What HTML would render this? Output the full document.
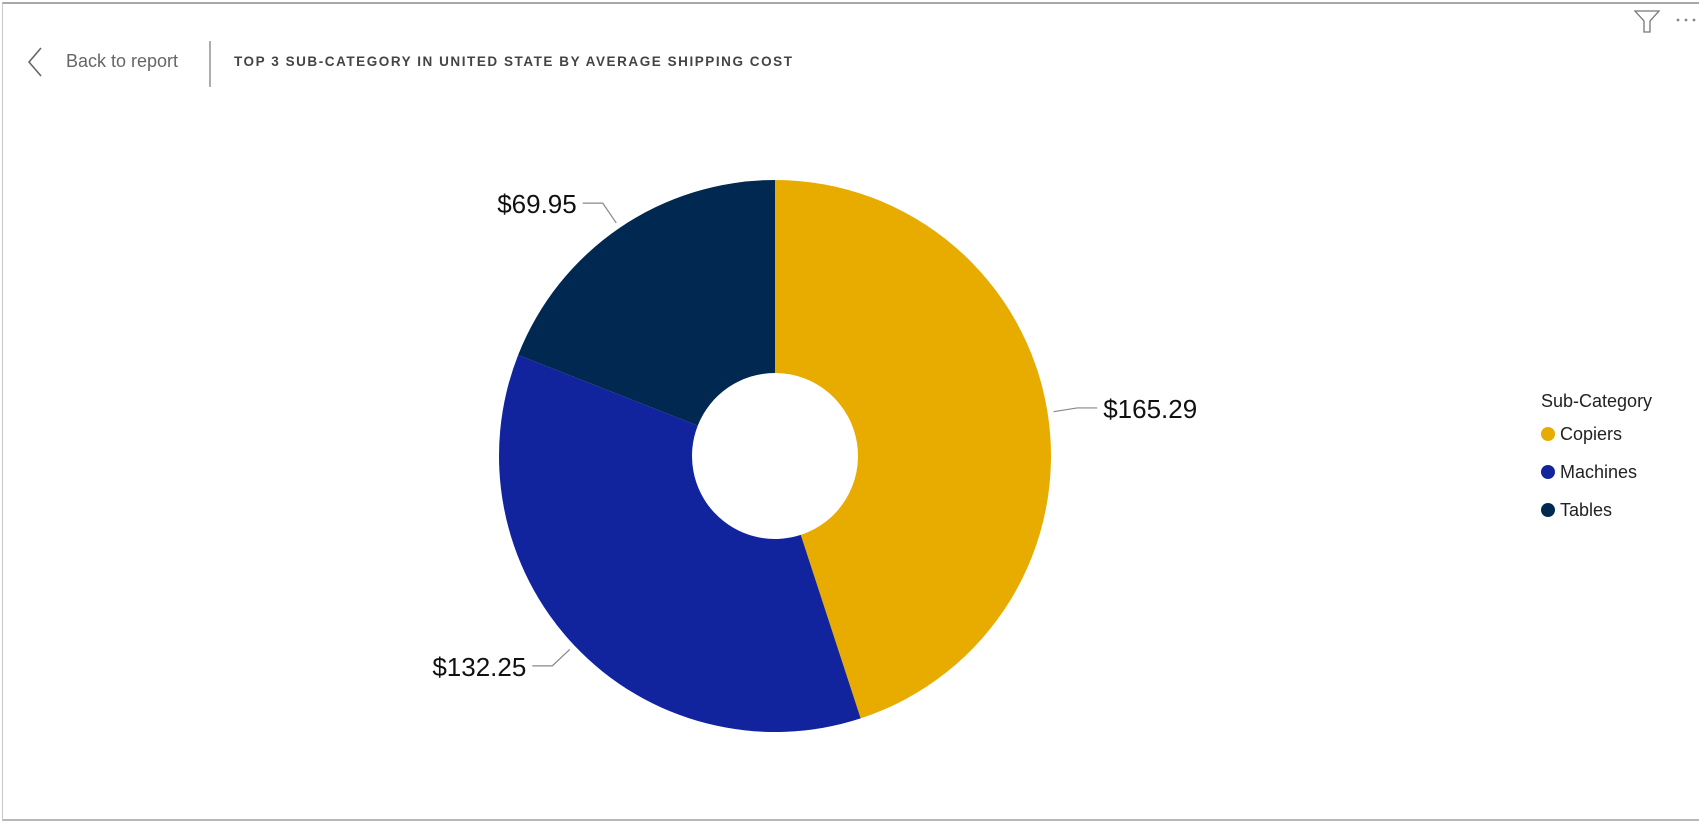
<!DOCTYPE html>
<html><head><meta charset="utf-8"><style>
html,body{margin:0;padding:0;background:#fff;width:1699px;height:826px;overflow:hidden;font-family:"Liberation Sans",sans-serif}
#frame{position:absolute;left:2px;top:2px;width:1700px;height:819px;border-top:2px solid #a8a8a8;border-left:1px solid #c8c8c8;border-bottom:2px solid #b8b8b8;box-sizing:border-box}
.abs{position:absolute;white-space:nowrap}
</style></head><body>
<div id="frame"></div>
<svg class="abs" style="left:0;top:0" width="1699" height="826">
  <polyline points="41,48 29,62 41,76" fill="none" stroke="#666" stroke-width="1.6"/>
  <line x1="210" y1="41" x2="210" y2="87" stroke="#777" stroke-width="1.2"/>
  <path d="M1635,11 L1659,11 L1650,21 L1650,32 L1644,32 L1644,21 Z" fill="none" stroke="#777" stroke-width="1.3"/>
  <g fill="#888"><circle cx="1678" cy="20" r="1.4"/><circle cx="1686" cy="20" r="1.4"/><circle cx="1694" cy="20" r="1.4"/></g>
</svg>
<div class="abs" style="left:66px;top:51px;font-size:18px;color:#666">Back to report</div>
<div class="abs" style="left:234px;top:54px;font-size:13.5px;font-weight:bold;color:#444;letter-spacing:1.55px">TOP 3 SUB-CATEGORY IN UNITED STATE BY AVERAGE SHIPPING COST</div>
<svg id="chart" class="abs" style="left:0;top:0" width="1699" height="826"></svg>
<div class="abs" style="left:1541px;top:391px;font-size:18px;color:#222">Sub-Category</div>
<div id="legend"></div>
<script>
const categories=["Copiers","Machines","Tables"];
const values=[165.29,132.25,69.95];
const labels=["$165.29","$132.25","$69.95"];
const colors=["#E8AB00","#12239E","#002850"];
const NS="http://www.w3.org/2000/svg";
const svg=document.getElementById('chart');
const cx=775,cy=456,R=276,r=83;
const total=values.reduce((a,b)=>a+b,0);
function pt(a,rad){return [cx+rad*Math.sin(a),cy-rad*Math.cos(a)];}
let start=0;
values.forEach((v,i)=>{
  const ang=v/total*2*Math.PI,end=start+ang,large=ang>Math.PI?1:0;
  const [x1,y1]=pt(start,R),[x2,y2]=pt(end,R),[x3,y3]=pt(end,r),[x4,y4]=pt(start,r);
  const p=document.createElementNS(NS,'path');
  p.setAttribute('d',`M${x1},${y1} A${R},${R} 0 ${large} 1 ${x2},${y2} L${x3},${y3} A${r},${r} 0 ${large} 0 ${x4},${y4} Z`);
  p.setAttribute('fill',colors[i]);
  
  
  svg.appendChild(p);
  const mid=start+ang/2,right=Math.sin(mid)>=0;
  const [ax,ay]=pt(mid,R+6),[bx,by]=pt(mid,R+30);
  const ex=right?bx+20:bx-20;
  const l=document.createElementNS(NS,'polyline');
  l.setAttribute('points',`${ax},${ay} ${bx},${by} ${ex},${by}`);
  l.setAttribute('fill','none');l.setAttribute('stroke','#888');l.setAttribute('stroke-width','1.2');
  
  
  svg.appendChild(l);
  const t=document.createElementNS(NS,'text');
  t.setAttribute('x',right?ex+6:ex-6);t.setAttribute('y',by+10);
  t.setAttribute('text-anchor',right?'start':'end');
  t.setAttribute('font-size','26');t.setAttribute('fill','#111');
  t.setAttribute('font-family','Liberation Sans, sans-serif');
  t.textContent=labels[i];
  
  
  svg.appendChild(t);
  start=end;
});
const lg=document.getElementById('legend');
categories.forEach((c,i)=>{
  const d=document.createElement('div');
  d.className='abs';
  d.style.cssText=`left:1541px;top:${423+i*38}px;font-size:18px;color:#222;height:22px;line-height:22px`;
  d.innerHTML=`<span style="display:inline-block;width:14px;height:14px;border-radius:50%;background:${colors[i]};vertical-align:-1px;margin-right:5px"></span>${c}`;
  
  
  lg.appendChild(d);
});
</script>
</body></html>
